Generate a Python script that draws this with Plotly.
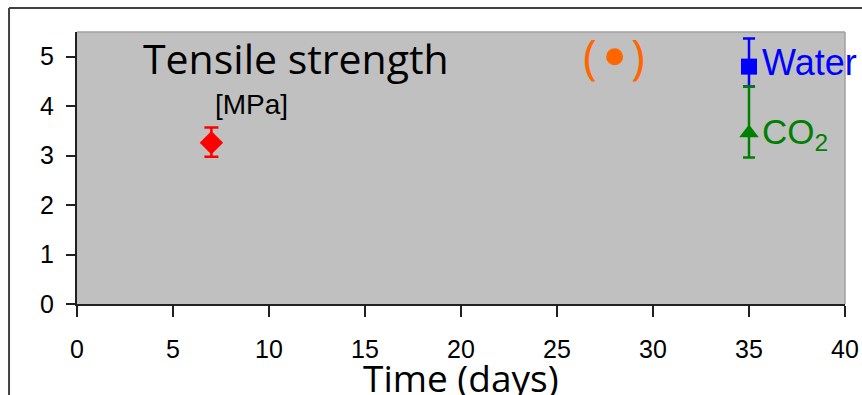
import plotly.graph_objects as go

# Data
red_x = [7]; red_y = [3.26]; red_up = [0.31]; red_dn = [0.28]
orange_x = [28]; orange_y = [5.0]
water_x = [35]; water_y = [4.80]; water_up = [0.57]; water_dn = [0.40]
co2_x = [35]; co2_y = [3.46]; co2_up = [0.94]; co2_dn = [0.50]
x_ticks = [0, 5, 10, 15, 20, 25, 30, 35, 40]
y_ticks = [0, 1, 2, 3, 4, 5]

fig = go.Figure()
fig.add_trace(go.Scatter(x=red_x, y=red_y, mode="markers",
    marker=dict(symbol="diamond", size=18, color="#FF0000"),
    error_y=dict(type="data", symmetric=False, array=red_up, arrayminus=red_dn,
                 color="#FF0000", thickness=2.5, width=7)))
fig.add_trace(go.Scatter(x=orange_x, y=orange_y, mode="markers",
    marker=dict(symbol="circle", size=17, color="#FF6600")))
fig.add_trace(go.Scatter(x=water_x, y=water_y, mode="markers",
    marker=dict(symbol="square", size=16, color="#0000FF"),
    error_y=dict(type="data", symmetric=False, array=water_up, arrayminus=water_dn,
                 color="#0000FF", thickness=2.5, width=6)))
fig.add_trace(go.Scatter(x=co2_x, y=co2_y, mode="markers",
    marker=dict(symbol="triangle-up", size=17, color="#008000"),
    error_y=dict(type="data", symmetric=False, array=co2_up, arrayminus=co2_dn,
                 color="#008000", thickness=2.5, width=6)))

axis_font = dict(family="Liberation Sans, Arial", size=25, color="#000000")
fig.update_xaxes(range=[0, 40], tickvals=x_ticks, ticks="outside", ticklen=11,
                 tickwidth=2, tickcolor="#202020", showline=True, linecolor="#202020",
                 linewidth=2, showgrid=False, zeroline=False, tickfont=axis_font,
                 ticklabelstandoff=11, automargin=False)
fig.update_yaxes(range=[0, 5.5], tickvals=y_ticks, ticks="outside", ticklen=9,
                 tickwidth=2, tickcolor="#202020", showline=True, linecolor="#202020",
                 linewidth=2, showgrid=False, zeroline=False, tickfont=axis_font,
                 ticklabelstandoff=7, automargin=False)

shapes = [
    dict(type="line", xref="paper", yref="paper", x0=0, x1=1, y0=1, y1=1,
         line=dict(color="#A0A0A0", width=1.5)),
    dict(type="line", xref="paper", yref="paper", x0=1, x1=1, y0=0, y1=1,
         line=dict(color="#A0A0A0", width=1.5)),
    dict(type="line", xref="paper", yref="paper", x0=-0.0885, x1=1.03, y0=1.088, y1=1.088,
         line=dict(color="#404040", width=2)),
    dict(type="line", xref="paper", yref="paper", x0=-0.0885, x1=-0.0885, y0=1.088, y1=-0.36,
         line=dict(color="#404040", width=2)),
]

annotations = [
    dict(text="Tensile strength", x=0.083, y=0.905, xref="paper", yref="paper",
         xanchor="left", yanchor="middle", showarrow=False,
         font=dict(family="Open Sans", size=41, color="#000000")),
    dict(text="[MPa]", x=0.2266, y=0.735, xref="paper", yref="paper",
         xanchor="center", yanchor="middle", showarrow=False,
         font=dict(family="Liberation Sans, Arial", size=28, color="#000000")),
    dict(text="(", x=0.668, y=0.91, xref="paper", yref="paper", xanchor="center", yanchor="middle",
         showarrow=False, font=dict(family="Open Sans", size=47, color="#FF6600")),
    dict(text=")", x=0.731, y=0.91, xref="paper", yref="paper", xanchor="center", yanchor="middle",
         showarrow=False, font=dict(family="Open Sans", size=47, color="#FF6600")),
    dict(text="Water", x=0.889, y=0.888, xref="paper", yref="paper", xanchor="left", yanchor="middle",
         showarrow=False, font=dict(family="Liberation Sans, Arial", size=36, color="#0000FF")),
    dict(text="CO<sub>2</sub>", x=0.889, y=0.625, xref="paper", yref="paper", xanchor="left",
         yanchor="middle", showarrow=False,
         font=dict(family="Liberation Sans, Arial", size=35, color="#008000")),
    dict(text="Time (days)", x=0.5, y=-0.168, xref="paper", yref="paper", xanchor="center",
         yanchor="top", showarrow=False,
         font=dict(family="Open Sans", size=37, color="#000000")),
]

fig.update_layout(width=862, height=395, margin=dict(l=77, r=17, t=32, b=91),
                  plot_bgcolor="#C0C0C0", paper_bgcolor="#FFFFFF", showlegend=False,
                  shapes=shapes, annotations=annotations)
fig.write_html("out.html")
